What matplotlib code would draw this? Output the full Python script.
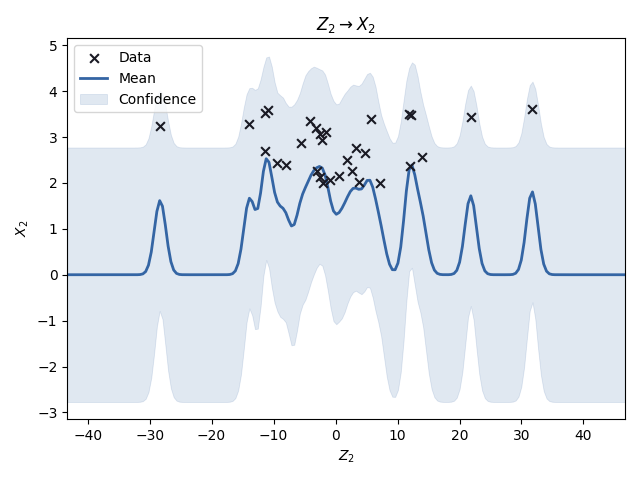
import numpy as np
import matplotlib
matplotlib.use("Agg")
import matplotlib.pyplot as plt

z2 = [-28.3, -13.9, -11.4, -10.9, -11.45, -9.45, -8.0, -5.65, -4.1, -3.1,
      -2.45, -1.6, -2.15, -2.95, -2.5, -2.1, -0.9, 0.5, 1.85, 2.65,
      3.35, 3.75, 4.7, 5.65, 7.2, 11.9, 12.2, 12.05, 13.9, 21.8, 31.7]
x2 = [3.24, 3.29, 3.53, 3.58, 2.70, 2.44, 2.38, 2.86, 3.35, 3.19,
      3.06, 3.11, 2.94, 2.25, 2.12, 2.00, 2.06, 2.15, 2.51, 2.27,
      2.77, 2.03, 2.65, 3.40, 1.99, 3.50, 3.47, 2.36, 2.57, 3.44, 3.62]

# GP model settings (RBF kernel + Gaussian noise)
kern_var = 1.0
lengthscale = 0.93
noise_var = 1.0
n_grid = 200

X = np.asarray(z2)
Y = np.asarray(x2)
lo, hi = X.min(), X.max()
pad = 0.25 * (hi - lo)
grid = np.linspace(lo - pad, hi + pad, n_grid)

def rbf(a, b):
    d = a[:, None] - b[None, :]
    return kern_var * np.exp(-0.5 * d ** 2 / lengthscale ** 2)

K = rbf(X, X) + noise_var * np.eye(len(X))
Ks = rbf(grid, X)
alpha = np.linalg.solve(K, Y)
mean = Ks @ alpha
v = np.linalg.solve(K, Ks.T)
var = kern_var - np.sum(Ks * v.T, axis=1) + noise_var
std = np.sqrt(np.maximum(var, 0))
upper = mean + 1.96 * std
lower = mean - 1.96 * std

fig, ax = plt.subplots(figsize=(6.4, 4.8), dpi=100)
ax.fill_between(grid, lower, upper, color="#3465a4", alpha=0.15, linewidth=0.6,
                label="Confidence")
ax.plot(grid, mean, color="#3465a4", linewidth=2, label="Mean")
ax.scatter(X, Y, marker="x", color="#1a1a24", s=40, linewidths=1.5, label="Data", zorder=3)

ax.set_xlim(grid[0], grid[-1])
ax.set_ylim(-3.15, 5.15)
ax.set_title(r"$Z_2 \rightarrow X_2$")
ax.set_xlabel(r"$Z_2$")
ax.set_ylabel(r"$X_2$")
h, l = ax.get_legend_handles_labels()
order = [l.index("Data"), l.index("Mean"), l.index("Confidence")]
ax.legend([h[i] for i in order], [l[i] for i in order], loc="upper left")
fig.tight_layout()
fig.savefig("out.png", dpi=100)
